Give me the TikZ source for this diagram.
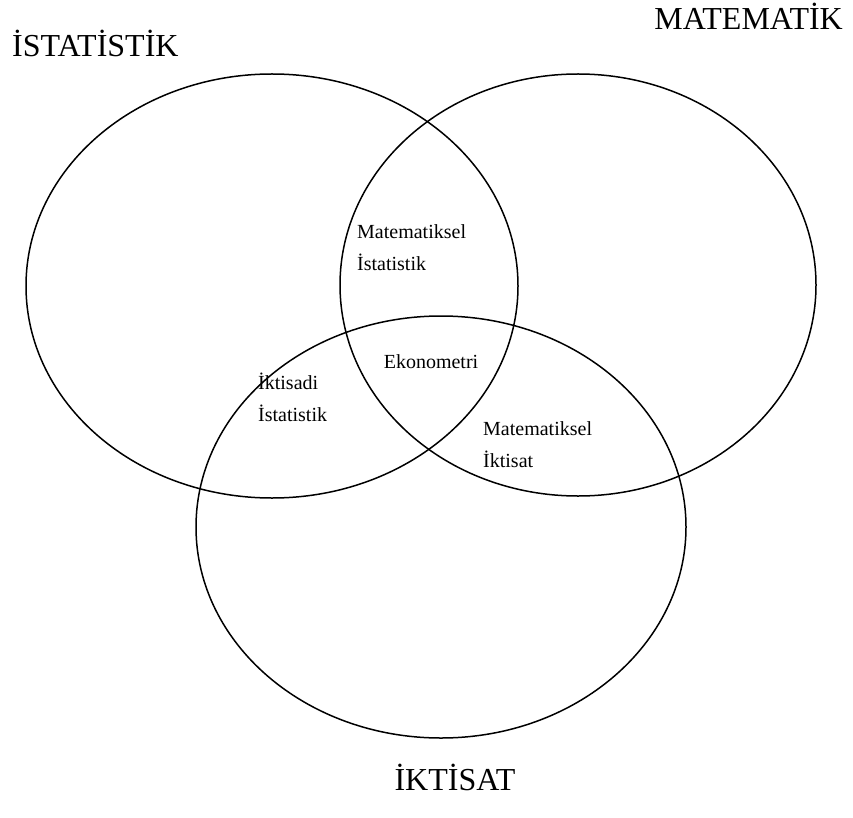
\documentclass[tikz,border=0pt]{standalone}
\usepackage{fontspec}
\setmainfont{Liberation Serif}
\usetikzlibrary{shapes.geometric, positioning}
\tikzstyle{set} = [ellipse, draw=black, line width=1.5pt, inner sep=0pt]
\tikzstyle{title} = [font=\fontsize{32}{36}\selectfont, inner sep=0pt]
\tikzstyle{region} = [font=\fontsize{20}{32}\selectfont, align=left, inner sep=0pt]

\begin{document}
\begin{tikzpicture}[x=1pt, y=1pt]
\useasboundingbox (0,0) rectangle (853,-818);

% Sets
\node (istatistik) [set, minimum width=492pt, minimum height=424pt] at (272,-286) {};
\node (matematik) [set, minimum width=476pt, minimum height=422pt] at (578,-285) {};
\node (iktisat) [set, minimum width=490pt, minimum height=422pt] at (441,-527) {};

% Set names
\node (istatistikname) [title, anchor=base west] at (12,-57) {İSTATİSTİK};
\node (matematikname) [title, anchor=base east] at (843,-30) {MATEMATİK};
\node (iktisatname) [title, anchor=base] at (455,-790) {İKTİSAT};

% Intersections
\node (matist) [region, anchor=west] at (357,-248) {Matematiksel\\İstatistik};
\node (ekonometri) [region] at (431,-362) {Ekonometri};
\node (iktist) [region, anchor=west] at (258,-397) {İktisadi\\İstatistik};
\node (matikt) [region, anchor=west] at (483,-445) {Matematiksel\\İktisat};

\end{tikzpicture}
\end{document}
